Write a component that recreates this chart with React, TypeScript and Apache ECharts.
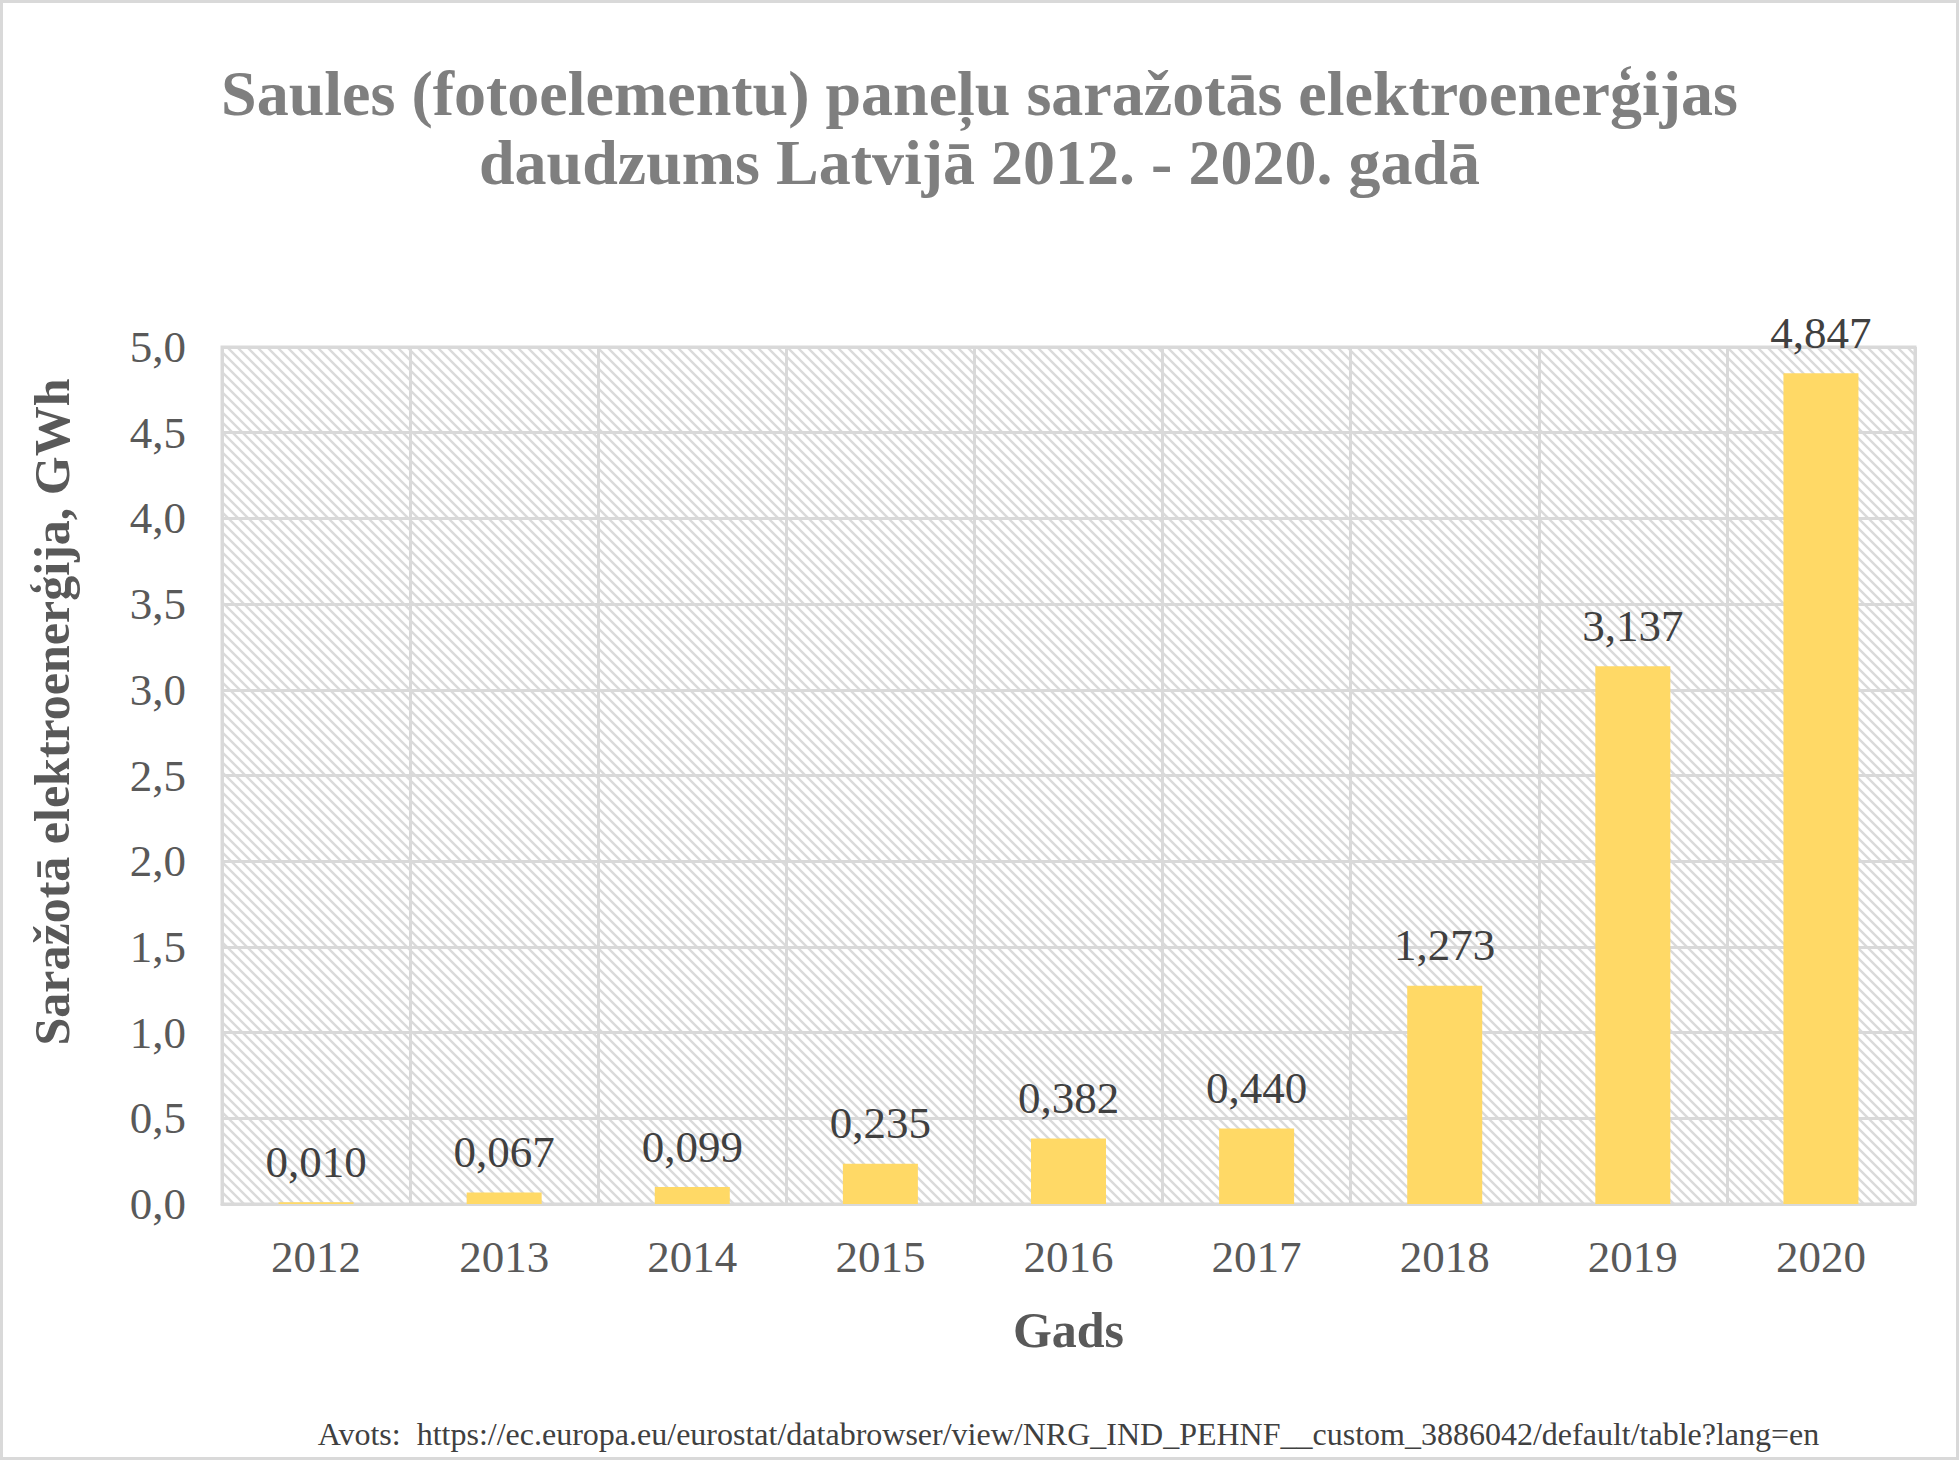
import {useEffect, useRef} from 'react';
import * as echarts from 'echarts';

const years = ['2012', '2013', '2014', '2015', '2016', '2017', '2018', '2019', '2020'];
const production = [0.010, 0.067, 0.099, 0.235, 0.382, 0.440, 1.273, 3.137, 4.847];

const titleText = 'Saules (fotoelementu) paneļu saražotās elektroenerģijas\ndaudzums Latvijā 2012. - 2020. gadā';
const yAxisTitle = 'Saražotā elektroenerģija, GWh';
const xAxisTitle = 'Gads';
const sourceText = 'Avots:  https://ec.europa.eu/eurostat/databrowser/view/NRG_IND_PEHNF__custom_3886042/default/table?lang=en';

const FONT = '"Liberation Serif", "Times New Roman", serif';

function makeHatch() {
    const size = 10;
    const c = document.createElement('canvas');
    c.width = size;
    c.height = size;
    const ctx = c.getContext('2d');
    if (ctx) {
        ctx.fillStyle = '#ffffff';
        ctx.fillRect(0, 0, size, size);
        ctx.strokeStyle = '#dadada';
        ctx.lineWidth = 2.4;
        ctx.beginPath();
        ctx.moveTo(-2, -2);
        ctx.lineTo(size + 2, size + 2);
        ctx.moveTo(-2, size - 2);
        ctx.lineTo(2, size + 2);
        ctx.moveTo(size - 2, -2);
        ctx.lineTo(size + 2, 2);
        ctx.stroke();
    }
    return c;
}

export default function App() {
    const chartRef = useRef<HTMLDivElement | null>(null);

    useEffect(() => {
        const el = chartRef.current;
        if (!el) return;
        const chart = echarts.init(el, null, {renderer: 'svg'});
        const gridLeft = 222;
        const gridRight = 44;
        const gridTop = 347;
        const gridBottom = 256;
        const plotCenter = gridLeft + (1959 - gridLeft - gridRight) / 2;

        chart.setOption({
            animation: false,
            backgroundColor: '#ffffff',
            textStyle: {fontFamily: FONT},
            title: {
                text: titleText,
                left: 'center',
                top: 54,
                textStyle: {
                    fontFamily: FONT,
                    fontSize: 64,
                    fontWeight: 'bold',
                    color: '#7f7f7f',
                    lineHeight: 69,
                    align: 'center',
                },
            },
            grid: {
                left: gridLeft,
                right: gridRight,
                top: gridTop,
                bottom: gridBottom,
                show: true,
                backgroundColor: {image: makeHatch(), repeat: 'repeat'},
                borderColor: '#d9d9d9',
                borderWidth: 3,
            },
            xAxis: {
                type: 'category',
                data: years,
                axisLine: {lineStyle: {color: '#d9d9d9', width: 3}},
                axisTick: {show: false},
                splitLine: {show: true, lineStyle: {color: '#d9d9d9', width: 3}},
                axisLabel: {
                    fontFamily: FONT,
                    fontSize: 45,
                    color: '#595959',
                    margin: 30,
                },
            },
            yAxis: {
                type: 'value',
                min: 0,
                max: 5,
                interval: 0.5,
                axisLine: {show: false},
                axisTick: {show: false},
                splitLine: {lineStyle: {color: '#d9d9d9', width: 3}},
                axisLabel: {
                    fontFamily: FONT,
                    fontSize: 45,
                    color: '#595959',
                    margin: 36,
                    formatter: (v: number) => v.toFixed(1).replace('.', ','),
                },
            },
            series: [
                {
                    type: 'bar',
                    data: production,
                    barWidth: 75,
                    itemStyle: {color: '#ffd966'},
                    label: {
                        show: true,
                        position: 'top',
                        distance: 18,
                        fontFamily: FONT,
                        fontSize: 45,
                        color: '#404040',
                        formatter: (p: any) => p.value.toFixed(3).replace('.', ','),
                    },
                },
            ],
            graphic: [
                {
                    type: 'rect',
                    shape: {x: 1.5, y: 1.5, width: 1956, height: 1457},
                    style: {fill: 'none', stroke: '#d9d9d9', lineWidth: 3},
                    silent: true,
                },
                {
                    type: 'text',
                    x: 52,
                    y: 712,
                    rotation: Math.PI / 2,
                    style: {
                        text: yAxisTitle,
                        fontFamily: FONT,
                        fontSize: 50,
                        fontWeight: 'bold',
                        fill: '#595959',
                        textAlign: 'center',
                        textVerticalAlign: 'middle',
                    },
                },
                {
                    type: 'text',
                    x: plotCenter,
                    y: 1330,
                    style: {
                        text: xAxisTitle,
                        fontFamily: FONT,
                        fontSize: 50,
                        fontWeight: 'bold',
                        fill: '#595959',
                        textAlign: 'center',
                        textVerticalAlign: 'middle',
                    },
                },
                {
                    type: 'text',
                    x: plotCenter,
                    y: 1434,
                    style: {
                        text: sourceText,
                        fontFamily: FONT,
                        fontSize: 32,
                        fill: '#404040',
                        textAlign: 'center',
                        textVerticalAlign: 'middle',
                    },
                },
            ],
        });

        return () => {
            chart.dispose();
        };
    }, []);

    return (
        <div
            ref={chartRef}
            style={{position: 'absolute', left: 0, top: 0, width: '1959px', height: '1460px'}}
        />
    );
}
